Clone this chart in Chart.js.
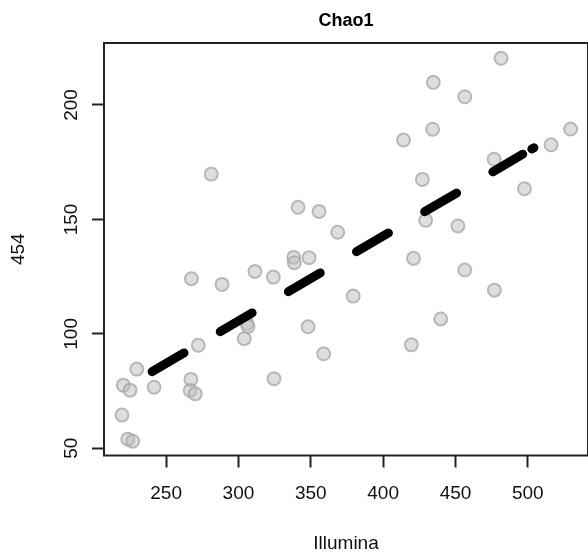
<!DOCTYPE html>
<html>
<head>
<meta charset="utf-8">
<script src="https://cdn.jsdelivr.net/npm/chart.js@4"></script>
<style>
html, body { margin: 0; padding: 0; background: #fff; overflow: hidden; }
canvas { display: block; }
</style>
</head>
<body>
<canvas id="chao1" width="588" height="559"></canvas>
<script>
// Chao1 richness: Illumina (x) vs 454 (y), one value per sample
const illumina = [281.2, 341.2, 355.7, 368.6, 481.5, 434.7, 456.4, 434.2, 414.1, 529.6,
  516.1, 476.7, 427.1, 497.7, 429.4, 451.7, 338.2, 338.6, 348.8, 311.4,
  324.1, 267.5, 288.6, 305.9, 306.6, 304.0, 348.1, 358.9, 272.2, 229.7,
  220.4, 225.1, 241.7, 267.1, 266.6, 270.1, 324.6, 219.5, 223.5, 226.9,
  421.0, 456.4, 476.9, 379.3, 439.8, 419.5]
const pyro454 = [169.8, 155.3, 153.5, 144.4, 220.4, 209.9, 203.6, 189.4, 184.7, 189.5,
  182.6, 176.3, 167.5, 163.4, 149.6, 147.1, 133.4, 131.1, 133.3, 127.3,
  124.8, 124.1, 121.6, 104.6, 103.2, 97.9, 103.1, 91.3, 95.0, 84.6,
  77.6, 75.4, 76.7, 80.1, 75.3, 73.8, 80.4, 64.5, 54.0, 53.1,
  133.0, 127.9, 119.1, 116.5, 106.5, 95.2]

// fitted line (dashed) and its short end piece
const fitX = [240.3, 496.5]
const fitY = [83.5, 178.5]
const tailX = [502.8, 504.2]
const tailY = [180.8, 181.3]

const xTicks = [250, 300, 350, 400, 450, 500]
const yTicks = [50, 100, 150, 200]

const FONT = 'Liberation Sans, Arial, Helvetica, sans-serif'

const toXY = (xs, ys) => xs.map((x, i) => ({ x: x, y: ys[i] }))

const boxPlugin = {
  id: 'box',
  afterDraw(chart) {
    const { ctx, chartArea: a } = chart
    ctx.save()
    ctx.strokeStyle = '#222'
    ctx.lineWidth = 2
    ctx.strokeRect(a.left, a.top, a.right - a.left, a.bottom - a.top)
    ctx.restore()
  }
}

const chart = new Chart(document.getElementById('chao1'), {
  type: 'scatter',
  data: {
    datasets: [
      {
        type: 'line',
        data: toXY(fitX, fitY),
        borderColor: '#000',
        borderWidth: 9,
        borderDash: [37, 42],
        borderCapStyle: 'round',
        pointRadius: 0,
        order: 0
      },
      {
        type: 'line',
        data: toXY(tailX, tailY),
        borderColor: '#000',
        borderWidth: 9,
        borderCapStyle: 'round',
        pointRadius: 0,
        order: 0
      },
      {
        data: toXY(illumina, pyro454),
        backgroundColor: 'rgba(190, 190, 190, 0.5)',
        borderColor: 'rgba(165, 165, 165, 0.75)',
        borderWidth: 2,
        pointRadius: 6.5,
        order: 1
      }
    ]
  },
  options: {
    responsive: false,
    devicePixelRatio: 1,
    animation: false,
    layout: { padding: 0, autoPadding: false },
    plugins: {
      legend: { display: false },
      tooltip: { enabled: false },
      title: {
        display: true,
        text: 'Chao1',
        fullSize: false,
        color: '#000',
        font: { family: FONT, size: 18, weight: 'bold' },
        padding: { top: 10, bottom: 11.4 }
      }
    },
    scales: {
      x: {
        type: 'linear',
        position: 'bottom',
        min: 207.06,
        max: 541.6,
        afterBuildTicks: s => { s.ticks = xTicks.map(v => ({ value: v })) },
        afterFit: s => { s.height = 103.5; s.paddingLeft = 0; s.paddingRight = 0 },
        border: { display: false },
        grid: { drawOnChartArea: false, drawTicks: true, tickLength: 12, tickWidth: 2, tickColor: '#222' },
        ticks: { color: '#111', font: { family: FONT, size: 19 }, padding: 15, maxRotation: 0 },
        title: { display: true, text: 'Illumina', color: '#111', font: { family: FONT, size: 19 }, padding: { top: 0, bottom: 4 } }
      },
      y: {
        type: 'linear',
        position: 'left',
        min: 46.85,
        max: 227.09,
        afterBuildTicks: s => { s.ticks = yTicks.map(v => ({ value: v })) },
        afterFit: s => { s.width = 104; s.paddingTop = 0; s.paddingBottom = 0 },
        border: { display: false },
        grid: { drawOnChartArea: false, drawTicks: true, tickLength: 12, tickWidth: 2, tickColor: '#222' },
        ticks: { color: '#111', font: { family: FONT, size: 19 }, padding: 4, minRotation: 90, maxRotation: 90, crossAlign: 'center' },
        title: { display: true, text: '454', color: '#111', font: { family: FONT, size: 19 }, padding: { top: 7, bottom: 0 } }
      }
    }
  },
  plugins: [boxPlugin]
})
</script>
</body>
</html>
